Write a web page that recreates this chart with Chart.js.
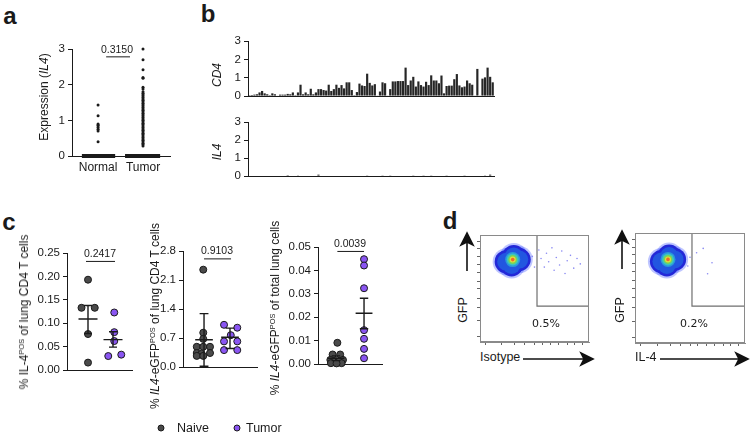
<!DOCTYPE html>
<html>
<head>
<meta charset="utf-8">
<script src="https://cdn.jsdelivr.net/npm/chart.js@4.4.1/dist/chart.umd.min.js"></script>
<style>
  html, body { margin: 0; padding: 0; background: #fff; }
  body { width: 751px; height: 435px; position: relative; overflow: hidden; font-family: 'Liberation Sans', Arial, Helvetica, sans-serif; color: #1a1a1a; }
  .box { position: absolute; }
  .box canvas { display: block; }
  .txt { position: absolute; white-space: nowrap; line-height: 1; font-size: 12px; }
  .ctr { transform: translate(-50%, -50%); }
  .rot { transform: translate(-50%, -50%) rotate(-90deg); }
  .mid { transform: translateY(-50%); }
  .panel { font-weight: bold; font-size: 24px; }
  .pval { font-size: 10.5px; }
  .gate { font-family: 'DejaVu Sans', Verdana, sans-serif; font-size: 11px; }
  .dot { position: absolute; width: 5px; height: 5px; border-radius: 50%; border: 1px solid #1a1a1a; transform: translate(-50%, -50%); }
  sup { font-size: 0.62em; vertical-align: 0.6em; line-height: 0; }
  svg { position: absolute; left: 0; top: 0; pointer-events: none; }
</style>
</head>
<body>

<div class="txt panel ctr" style="left:10px;top:16px">a</div>
<div class="txt panel ctr" style="left:208px;top:14px">b</div>
<div class="txt panel ctr" style="left:9px;top:222px">c</div>
<div class="txt panel ctr" style="left:450px;top:221px">d</div>

<div id="boxA" class="box"><canvas></canvas></div>
<div class="txt rot" style="left:44px;top:97px">Expression (<i>IL4</i>)</div>
<div class="txt pval ctr" style="left:117px;top:49px">0.3150</div>

<div id="boxCd4" class="box"><canvas></canvas></div>
<div id="boxIl4" class="box"><canvas></canvas></div>
<div class="txt rot" style="left:217px;top:75px"><i>CD4</i></div>
<div class="txt rot" style="left:217px;top:152px"><i>IL4</i></div>

<div id="boxC1" class="box"><canvas></canvas></div>
<div id="boxC2" class="box"><canvas></canvas></div>
<div id="boxC3" class="box"><canvas></canvas></div>
<div class="txt rot" style="left:24px;top:312px">% IL-4<sup>POS</sup> of lung CD4 T cells</div>
<div class="txt rot" style="left:155px;top:316px">% <i>IL4</i>-eGFP<sup>POS</sup> of lung CD4 T cells</div>
<div class="txt rot" style="left:275px;top:308px">% <i>IL4</i>-eGFP<sup>POS</sup> of total lung cells</div>
<div class="txt pval ctr" style="left:100px;top:253px">0.2417</div>
<div class="txt pval ctr" style="left:217px;top:250px">0.9103</div>
<div class="txt pval ctr" style="left:350px;top:243px">0.0039</div>

<span class="dot" style="left:161px;top:428px;background:#4a4a4a"></span>
<div class="txt mid" style="left:177px;top:428px;font-size:12.5px">Naive</div>
<span class="dot" style="left:237px;top:428px;background:#8a55f2"></span>
<div class="txt mid" style="left:246px;top:428px;font-size:12.5px">Tumor</div>

<div id="boxD1" class="box"><canvas></canvas></div>
<div id="boxD2" class="box"><canvas></canvas></div>
<div class="txt rot" style="left:463px;top:310px;font-size:12.5px">GFP</div>
<div class="txt mid" style="left:480px;top:357px;font-size:12.5px">Isotype</div>
<div class="txt gate ctr" style="left:546px;top:323px">0.5%</div>
<div class="txt rot" style="left:620px;top:310px;font-size:12.5px">GFP</div>
<div class="txt mid" style="left:635px;top:357px;font-size:12.5px">IL-4</div>
<div class="txt gate ctr" style="left:694px;top:323px">0.2%</div>

<svg width="751" height="435">
  <g stroke="#111" stroke-width="1.6" fill="#111">
    <line x1="523" y1="359" x2="588" y2="359" />
    <polygon points="593,359 581,353 584,359 581,365" />
    <line x1="467" y1="271" x2="467" y2="240" />
    <polygon points="467,233 461,245 467,242 473,245" />
    <line x1="660" y1="359" x2="743" y2="359" />
    <polygon points="748,359 736,353 739,359 736,365" />
    <line x1="622" y1="269" x2="622" y2="238" />
    <polygon points="622,231 616,243 622,240 628,243" />
  </g>
</svg>

<script>
// a: single-cell IL4 expression
const aCategories = ['Normal', 'Tumor'];
const aTicks = [0, 1, 2, 3];
const aNormalHigh = [1.43, 1.13, 0.9, 0.87, 0.85, 0.8, 0.75, 0.7, 0.4];
const aTumorHigh = [3.0, 2.7, 2.42, 2.2, 2.18, 1.93, 1.88, 1.8, 1.76, 1.72, 1.68, 1.64, 1.6, 1.56, 1.52,
  1.48, 1.44, 1.4, 1.36, 1.32, 1.28, 1.24, 1.2, 1.16, 1.12, 1.08, 1.04, 1.0, 0.96, 0.92, 0.88, 0.84,
  0.8, 0.76, 0.72, 0.68, 0.64, 0.6, 0.56, 0.52, 0.48, 0.44, 0.4, 0.36, 0.32, 0.28];
const aZeroNormal = [0.64, 1.38];
const aZeroTumor = [1.6, 2.38];
const aBracket = [1.18, 1.71, 2.78];

// b: CD4 and IL4 per sample
const bTicks = [0, 1, 2, 3];
const cd4Values = [
  0.05, 0.06, 0.08, 0.1, 0.2, 0.28, 0.15, 0.1, 0.05, 0.15,
  0.1, 0.03, 0.08, 0.08, 0.08, 0.12, 0.1, 0.2, 0.05, 0.2,
  0.62, 0.1, 0.2, 0.1, 0.4, 0.1, 0.2, 0.38, 0.38, 0.33,
  0.3, 0.62, 0.28, 0.38, 0.62, 0.45, 0.6, 0.42, 0.75, 0.75,
  0.33, 0.05, 0.22, 0.68, 0.58, 0.55, 1.22, 0.72, 0.58, 0.65,
  0.02, 0.25, 0.75, 0.7, 0.02, 0.38, 0.8, 0.8, 0.82, 0.82,
  0.82, 1.55, 0.6, 0.85, 1.05, 0.52, 0.8, 0.6, 0.52, 0.78,
  0.6, 1.13, 0.85, 0.85, 0.7, 1.12, 0.15, 0.55, 0.57, 0.57,
  0.92, 1.2, 0.58, 0.48, 0.52, 0.85, 0.7, 0.62, 0.02, 1.48,
  0.02, 0.95, 1.02, 1.55, 1.05, 0.75
];
const il4DotIndex = [15, 19, 27, 46, 52, 55, 64, 68, 71, 77, 84, 92, 94];
const il4DotValue = [0.05, 0.04, 0.08, 0.04, 0.04, 0.04, 0.04, 0.04, 0.04, 0.04, 0.04, 0.04, 0.08];

// c: flow percentages, x = group (1 Naive, 2 Tumor) with jitter
const c1Ticks = [0, 0.05, 0.1, 0.15, 0.2, 0.25];
const c1NaiveX = [1.0, 0.74, 1.27, 1.0, 1.0];
const c1NaiveY = [0.193, 0.133, 0.133, 0.077, 0.016];
const c1TumorX = [2.05, 2.05, 2.05, 1.81, 2.33];
const c1TumorY = [0.123, 0.081, 0.062, 0.03, 0.033];
const c1Mean = [0.109, 0.065];
const c1Low = [0.078, 0.049];
const c1High = [0.138, 0.082];
const c1Bracket = [0.92, 2.08, 0.232];

const c2Ticks = [0, 0.7, 1.4, 2.1, 2.8];
const c2NaiveX = [0.97, 0.97, 0.97, 0.72, 0.97, 1.23, 0.72, 0.9, 1.23, 0.72, 0.97];
const c2NaiveY = [2.35, 0.83, 0.68, 0.49, 0.49, 0.49, 0.34, 0.32, 0.34, 0.27, 0.27];
const c2TumorX = [1.77, 2.28, 2.03, 1.77, 2.28, 1.77, 2.28];
const c2TumorY = [1.02, 0.95, 0.77, 0.62, 0.62, 0.41, 0.41];
const c2Mean = [0.66, 0.72];
const c2Low = [0.02, 0.45];
const c2High = [1.29, 0.94];
const c2Bracket = [1.0, 2.04, 2.61];

const c3Ticks = [0, 0.01, 0.02, 0.03, 0.04, 0.05];
const c3NaiveX = [1.05, 0.88, 1.15, 0.8, 1.25, 0.95, 1.1, 0.82, 1.2, 1.02];
const c3NaiveY = [0.0091, 0.0041, 0.0041, 0.0018, 0.0018, 0.001, 0.0012, 0.0004, 0.0004, 0.0003];
const c3TumorX = [2.0, 2.0, 2.0, 2.0, 2.0, 2.0, 2.0];
const c3TumorY = [0.0448, 0.0421, 0.0324, 0.0145, 0.0108, 0.0065, 0.0025];
const c3Mean = [0.0025, 0.0217];
const c3Low = [0.0015, 0.0151];
const c3High = [0.0035, 0.0281];
const c3Bracket = [1.05, 2.0, 0.0481];

// d: flow plots (0-100 display units); first blob point is the density peak
const flowTicks = [5, 20, 32, 41, 50, 57, 65, 72, 80, 87, 94];
const d1Blob = [{ x: 30, y: 77 }, { x: 24, y: 75 }, { x: 36, y: 77 }, { x: 29, y: 72 }, { x: 31, y: 80 }];
const d1Events = [{ x: 48, y: 80 }, { x: 50, y: 70 }, { x: 54, y: 86 }, { x: 56, y: 78 }, { x: 59, y: 70 },
  { x: 61, y: 83 }, { x: 63, y: 75 }, { x: 66, y: 88 }, { x: 68, y: 67 }, { x: 70, y: 79 }, { x: 73, y: 72 },
  { x: 75, y: 85 }, { x: 78, y: 64 }, { x: 80, y: 76 }, { x: 83, y: 81 }, { x: 86, y: 69 }, { x: 89, y: 78 },
  { x: 92, y: 73 }];
const d1Gate = [{ x: 52.3, y: 100 }, { x: 52.3, y: 33.6 }, { x: 100, y: 33.6 }];
const d2Blob = [{ x: 30, y: 76 }, { x: 24, y: 74 }, { x: 36, y: 76 }, { x: 29, y: 71 }, { x: 31, y: 79 }];
const d2Events = [{ x: 50, y: 78 }, { x: 48, y: 70 }, { x: 56, y: 82 }, { x: 62, y: 86 }, { x: 70, y: 73 }, { x: 66, y: 63 }];
const d2Gate = [{ x: 51.8, y: 100 }, { x: 51.8, y: 33.6 }, { x: 100, y: 33.6 }];

const INK = '#1a1a1a';
const NAIVE_FILL = '#4a4a4a';
const TUMOR_FILL = '#8a55f2';
const TICK_FONT = 11.5;
const PAD_TOP = 10;
const PAD_RIGHT = 4;
// spread: layer drawn around every blob point, otherwise only around the peak
const BLOB_LAYERS = [
  { color: 'rgba(70, 90, 255, 0.35)', radius: 13.5, spread: true },
  { color: '#2328d8', radius: 11.5, spread: true },
  { color: '#2256e0', radius: 9, spread: true },
  { color: '#2a98dc', radius: 7.5, spread: false },
  { color: '#3cc4c0', radius: 6, spread: false },
  { color: '#79d655', radius: 4.5, spread: false },
  { color: '#e2dc3e', radius: 3, spread: false },
  { color: '#ee6a2a', radius: 1.8, spread: false }
];

Chart.defaults.font.family = "'Liberation Sans', Arial, Helvetica, sans-serif";
Chart.defaults.color = INK;

function placeBox(id, plot, axisW, axisH) {
  const [left, top, right, bottom] = plot;
  const box = document.getElementById(id);
  box.style.left = `${left - axisW}px`;
  box.style.top = `${top - PAD_TOP}px`;
  box.style.width = `${right - left + axisW + PAD_RIGHT}px`;
  box.style.height = `${bottom - top + axisH + PAD_TOP}px`;
  return box.querySelector('canvas').getContext('2d');
}

function baseOptions(xScale, yScale) {
  return {
    responsive: true,
    maintainAspectRatio: false,
    animation: false,
    events: [],
    layout: { padding: { top: PAD_TOP, right: PAD_RIGHT, left: 0, bottom: 0 }, autoPadding: false },
    plugins: { legend: { display: false }, tooltip: { enabled: false } },
    scales: { x: xScale, y: yScale }
  };
}

function valueAxis(ticks, decimals, width) {
  return {
    type: 'linear',
    min: ticks[0],
    max: ticks[ticks.length - 1],
    afterBuildTicks: (scale) => { scale.ticks = ticks.map((value) => ({ value })); },
    afterFit: (scale) => { scale.width = width; },
    ticks: { color: INK, font: { size: TICK_FONT }, padding: 3, callback: (value) => Number(value).toFixed(decimals) },
    grid: { drawOnChartArea: false, color: INK, tickLength: 4 },
    border: { color: INK, width: 1 }
  };
}

function groupAxis(min, max, height, labels) {
  return {
    type: 'linear',
    min,
    max,
    afterBuildTicks: (scale) => { scale.ticks = labels ? labels.map((_, i) => ({ value: i + 1 })) : []; },
    afterFit: (scale) => { scale.height = height; },
    ticks: {
      display: Boolean(labels),
      color: INK,
      font: { size: 12 },
      padding: 4,
      maxRotation: 0,
      autoSkip: false,
      callback: (value) => (labels ? labels[Math.round(value) - 1] : '')
    },
    grid: { display: false, drawTicks: false },
    border: { color: INK, width: 1 }
  };
}

function flowAxis(height, width) {
  return {
    type: 'linear',
    min: 0,
    max: 100,
    afterBuildTicks: (scale) => { scale.ticks = flowTicks.map((value) => ({ value })); },
    afterFit: (scale) => {
      if (height) scale.height = height;
      if (width) scale.width = width;
    },
    ticks: { display: false },
    grid: { drawOnChartArea: false, color: '#666', tickLength: 3 },
    border: { color: '#8a8a8a', width: 1 }
  };
}

function zip(xs, ys) {
  return xs.map((x, i) => ({ x, y: ys[i] }));
}

function dotSet(points, fill, radius, borderWidth) {
  return {
    data: points,
    showLine: false,
    pointRadius: radius,
    pointBackgroundColor: fill,
    pointBorderColor: INK,
    pointBorderWidth: borderWidth,
    clip: false,
    order: 2
  };
}

function lineSet(points, width, color = INK) {
  return {
    data: points,
    showLine: true,
    spanGaps: false,
    borderColor: color,
    borderWidth: width,
    pointRadius: 0,
    clip: false,
    order: 0
  };
}

function summaryPoints(center, mean, low, high, halfMean, halfCap) {
  return [
    { x: center - halfMean, y: mean }, { x: center + halfMean, y: mean }, { x: center, y: null },
    { x: center, y: low }, { x: center, y: high }, { x: center, y: null },
    { x: center - halfCap, y: low }, { x: center + halfCap, y: low }, { x: center, y: null },
    { x: center - halfCap, y: high }, { x: center + halfCap, y: high }
  ];
}

function bracketPoints(bracket) {
  return [{ x: bracket[0], y: bracket[2] }, { x: bracket[1], y: bracket[2] }];
}

// panel a
new Chart(placeBox('boxA', [72, 49, 170, 156], 40, 24), {
  type: 'scatter',
  data: {
    datasets: [
      lineSet(bracketPoints(aBracket), 1),
      lineSet([{ x: aZeroNormal[0], y: 0 }, { x: aZeroNormal[1], y: 0 }], 4),
      lineSet([{ x: aZeroTumor[0], y: 0 }, { x: aZeroTumor[1], y: 0 }], 4),
      dotSet(aNormalHigh.map((y) => ({ x: 1, y })), INK, 1.5, 0),
      dotSet(aTumorHigh.map((y) => ({ x: 2, y })), INK, 1.5, 0)
    ]
  },
  options: baseOptions(groupAxis(0.42, 2.6, 24, aCategories), valueAxis(aTicks, 0, 40))
});

// panel b
const barLabels = cd4Values.map((_, i) => String(i + 1));
const il4Values = cd4Values.map(() => 0);
il4DotIndex.forEach((index, i) => { il4Values[index] = il4DotValue[i]; });

function barChart(id, plot, values) {
  return new Chart(placeBox(id, plot, 30, 2), {
    type: 'bar',
    data: {
      labels: barLabels,
      datasets: [{ data: values, backgroundColor: '#262626', barPercentage: 0.85, categoryPercentage: 1 }]
    },
    options: baseOptions({
      type: 'category',
      afterFit: (scale) => { scale.height = 2; },
      ticks: { display: false },
      grid: { display: false, drawTicks: false },
      border: { color: INK, width: 1 }
    }, valueAxis(bTicks, 0, 30))
  });
}

barChart('boxCd4', [248, 41, 494, 104], cd4Values);
barChart('boxIl4', [248, 122, 494, 184], il4Values);

// panel c
function groupPlot(id, plot, axisW, xRange, ticks, decimals, groups, bracket, widths) {
  const [halfMean, halfCap] = widths;
  const datasets = [lineSet(bracketPoints(bracket), 1)];
  groups.forEach((group, i) => {
    datasets.push(lineSet(summaryPoints(i + 1, group.mean, group.low, group.high, halfMean, halfCap), 1.4));
    datasets.push(dotSet(zip(group.x, group.y), group.fill, 3.5, 1));
  });
  return new Chart(placeBox(id, plot, axisW, 2), {
    type: 'scatter',
    data: { datasets },
    options: baseOptions(groupAxis(xRange[0], xRange[1], 2, null), valueAxis(ticks, decimals, axisW))
  });
}

groupPlot('boxC1', [67, 253, 132, 378], 38, [0.16, 2.76], c1Ticks, 2, [
  { x: c1NaiveX, y: c1NaiveY, mean: c1Mean[0], low: c1Low[0], high: c1High[0], fill: NAIVE_FILL },
  { x: c1TumorX, y: c1TumorY, mean: c1Mean[1], low: c1Low[1], high: c1High[1], fill: TUMOR_FILL }
], c1Bracket, [0.38, 0.16]);

groupPlot('boxC2', [183, 251, 257, 375], 30, [0.19, 3.04], c2Ticks, 1, [
  { x: c2NaiveX, y: c2NaiveY, mean: c2Mean[0], low: c2Low[0], high: c2High[0], fill: NAIVE_FILL },
  { x: c2TumorX, y: c2TumorY, mean: c2Mean[1], low: c2Low[1], high: c2High[1], fill: TUMOR_FILL }
], c2Bracket, [0.34, 0.17]);

groupPlot('boxC3', [318, 247, 382, 372], 38, [0.36, 2.64], c3Ticks, 2, [
  { x: c3NaiveX, y: c3NaiveY, mean: c3Mean[0], low: c3Low[0], high: c3High[0], fill: NAIVE_FILL },
  { x: c3TumorX, y: c3TumorY, mean: c3Mean[1], low: c3Low[1], high: c3High[1], fill: TUMOR_FILL }
], c3Bracket, [0.3, 0.15]);

// panel d
const framePlugin = {
  id: 'frame',
  afterDatasetsDraw(chart) {
    const { ctx, chartArea: area } = chart;
    ctx.save();
    ctx.strokeStyle = '#8a8a8a';
    ctx.lineWidth = 1;
    ctx.strokeRect(area.left + 0.5, area.top + 0.5, area.width - 1, area.height - 1);
    ctx.restore();
  }
};

function flowPlot(id, plot, blob, events, gate) {
  const datasets = [lineSet(gate, 1.2, '#6f6f6f')];
  datasets.push({ data: events, showLine: false, pointRadius: 0.8, pointBorderWidth: 0, pointBackgroundColor: '#8a8af2', clip: false, order: 3 });
  BLOB_LAYERS.forEach((layer, i) => {
    datasets.push({
      data: layer.spread ? blob : blob.slice(0, 1),
      showLine: false,
      pointRadius: layer.radius,
      pointBorderWidth: 0,
      pointBackgroundColor: layer.color,
      clip: false,
      order: 20 - i
    });
  });
  return new Chart(placeBox(id, plot, 5, 5), {
    type: 'scatter',
    data: { datasets },
    options: baseOptions(flowAxis(5, 0), flowAxis(0, 5)),
    plugins: [framePlugin]
  });
}

flowPlot('boxD1', [480, 235, 589, 342], d1Blob, d1Events, d1Gate);
flowPlot('boxD2', [635, 233, 745, 343], d2Blob, d2Events, d2Gate);
</script>
</body>
</html>
